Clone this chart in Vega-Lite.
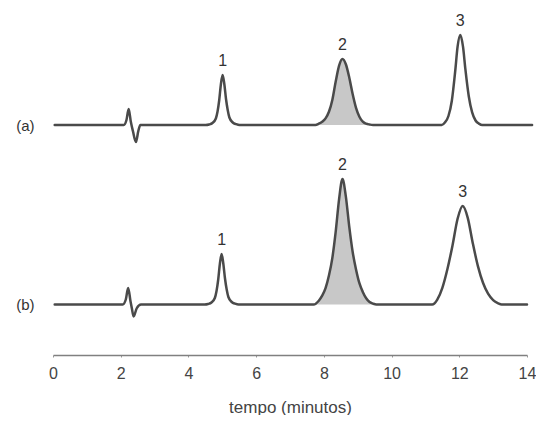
{
  "$schema": "https://vega.github.io/schema/vega-lite/v6.json",
  "padding": {"left": 15, "top": 0, "right": 0, "bottom": 0},
  "spacing": 0,
  "config": {"view": {"stroke": null}, "font": "Liberation Sans", "background": "white"},
  "datasets": {
    "a": [
      {"t": 0.05, "v": 0}, {"t": 1.9, "v": 0}, {"t": 2.09, "v": 0}, {"t": 2.17, "v": 5}, {"t": 2.235, "v": 16}, {"t": 2.3, "v": 3}, {"t": 2.36, "v": -6}, {"t": 2.45, "v": -17}, {"t": 2.52, "v": -6}, {"t": 2.58, "v": 0}, {"t": 2.8, "v": 0},
      {"t": 4.3, "v": 0}, {"t": 4.51, "v": 0}, {"t": 4.61, "v": 0.5}, {"t": 4.71, "v": 2}, {"t": 4.81, "v": 6.5}, {"t": 4.86, "v": 13.5}, {"t": 4.91, "v": 25}, {"t": 4.96, "v": 41}, {"t": 5.01, "v": 50}, {"t": 5.06, "v": 41}, {"t": 5.11, "v": 26}, {"t": 5.16, "v": 15}, {"t": 5.21, "v": 7.5}, {"t": 5.31, "v": 2.5}, {"t": 5.41, "v": 0.8}, {"t": 5.51, "v": 0}, {"t": 5.8, "v": 0},
      {"t": 7.5, "v": 0}, {"t": 7.75, "v": 0}, {"t": 7.85, "v": 1.3}, {"t": 7.95, "v": 3.3}, {"t": 8.05, "v": 6.6}, {"t": 8.15, "v": 13.2}, {"t": 8.25, "v": 25}, {"t": 8.35, "v": 43.5}, {"t": 8.45, "v": 59.4}, {"t": 8.55, "v": 66}, {"t": 8.65, "v": 60.7}, {"t": 8.75, "v": 47.5}, {"t": 8.85, "v": 31}, {"t": 8.95, "v": 17.2}, {"t": 9.05, "v": 8.3}, {"t": 9.15, "v": 3.3}, {"t": 9.25, "v": 1.3}, {"t": 9.35, "v": 0.5}, {"t": 9.45, "v": 0}, {"t": 9.8, "v": 0},
      {"t": 11.2, "v": 0}, {"t": 11.48, "v": 0}, {"t": 11.58, "v": 2.7}, {"t": 11.68, "v": 9}, {"t": 11.78, "v": 24.3}, {"t": 11.88, "v": 54}, {"t": 11.95, "v": 78.3}, {"t": 12.03, "v": 90}, {"t": 12.11, "v": 78.3}, {"t": 12.18, "v": 55.8}, {"t": 12.28, "v": 28.8}, {"t": 12.38, "v": 12.6}, {"t": 12.48, "v": 4.5}, {"t": 12.58, "v": 1.4}, {"t": 12.68, "v": 0}, {"t": 13.0, "v": 0},
      {"t": 14.15, "v": 0}
    ],
    "b": [
      {"t": 0.05, "v": 0}, {"t": 1.85, "v": 0}, {"t": 2.06, "v": 0}, {"t": 2.15, "v": 5}, {"t": 2.22, "v": 16.5}, {"t": 2.29, "v": 3}, {"t": 2.33, "v": -4}, {"t": 2.38, "v": -12}, {"t": 2.47, "v": -4}, {"t": 2.6, "v": 0}, {"t": 2.8, "v": 0},
      {"t": 4.3, "v": 0}, {"t": 4.48, "v": 0}, {"t": 4.58, "v": 0.5}, {"t": 4.68, "v": 2}, {"t": 4.78, "v": 6.5}, {"t": 4.83, "v": 13.5}, {"t": 4.88, "v": 25}, {"t": 4.93, "v": 41}, {"t": 4.98, "v": 50.5}, {"t": 5.03, "v": 41}, {"t": 5.08, "v": 26}, {"t": 5.13, "v": 15}, {"t": 5.18, "v": 7.5}, {"t": 5.28, "v": 2.5}, {"t": 5.38, "v": 0.8}, {"t": 5.48, "v": 0}, {"t": 5.8, "v": 0},
      {"t": 7.4, "v": 0}, {"t": 7.7, "v": 0}, {"t": 7.85, "v": 3.8}, {"t": 7.95, "v": 8.8}, {"t": 8.05, "v": 16.3}, {"t": 8.15, "v": 28.9}, {"t": 8.25, "v": 46.4}, {"t": 8.35, "v": 72.8}, {"t": 8.45, "v": 105.4}, {"t": 8.55, "v": 125.5}, {"t": 8.65, "v": 107.9}, {"t": 8.75, "v": 77.8}, {"t": 8.85, "v": 52.7}, {"t": 8.95, "v": 35.1}, {"t": 9.05, "v": 21.3}, {"t": 9.15, "v": 12.6}, {"t": 9.25, "v": 6.3}, {"t": 9.35, "v": 2.5}, {"t": 9.45, "v": 0.9}, {"t": 9.55, "v": 0}, {"t": 9.9, "v": 0},
      {"t": 10.9, "v": 0}, {"t": 11.2, "v": 0}, {"t": 11.35, "v": 4.9}, {"t": 11.5, "v": 16.7}, {"t": 11.65, "v": 35.5}, {"t": 11.8, "v": 59.1}, {"t": 11.95, "v": 85.7}, {"t": 12.1, "v": 98.5}, {"t": 12.25, "v": 86.7}, {"t": 12.4, "v": 61.1}, {"t": 12.55, "v": 38.4}, {"t": 12.7, "v": 21.7}, {"t": 12.85, "v": 10.8}, {"t": 13.0, "v": 4.4}, {"t": 13.15, "v": 1.2}, {"t": 13.25, "v": 0}, {"t": 13.5, "v": 0},
      {"t": 14.0, "v": 0}
    ],
    "labels": [
      {"trace": "a", "t": 5.01, "v": 50, "label": "1"},
      {"trace": "a", "t": 8.55, "v": 66, "label": "2"},
      {"trace": "a", "t": 12.03, "v": 90, "label": "3"},
      {"trace": "b", "t": 4.98, "v": 50.5, "label": "1"},
      {"trace": "b", "t": 8.55, "v": 125.5, "label": "2"},
      {"trace": "b", "t": 12.1, "v": 98.5, "label": "3"}
    ]
  },
  "vconcat": [
    {
      "width": 474,
      "height": 150,
      "layer": [
        {
          "data": {"name": "a"},
          "transform": [{"filter": "datum.t >= 7.75 && datum.t <= 9.45"}],
          "mark": {"type": "area", "interpolate": "monotone", "color": "#c8c8c8"},
          "encoding": {
            "x": {"field": "t", "type": "quantitative", "scale": {"domain": [0, 14], "nice": false}, "axis": null},
            "y": {"field": "v", "type": "quantitative", "scale": {"domain": [-25, 125], "nice": false, "zero": false},
                  "axis": {"values": [0], "labelExpr": "'(a)'", "ticks": false, "tickSize": 0, "domain": false, "grid": false, "title": null, "labelFontSize": 15, "labelPadding": 19, "labelColor": "#333333"}}
          }
        },
        {
          "data": {"name": "a"},
          "mark": {"type": "line", "interpolate": "monotone", "color": "#4a4a4a", "strokeWidth": 2.5, "strokeCap": "round", "strokeJoin": "round"},
          "encoding": {
            "x": {"field": "t", "type": "quantitative", "scale": {"domain": [0, 14], "nice": false}, "axis": null},
            "y": {"field": "v", "type": "quantitative", "scale": {"domain": [-25, 125], "nice": false, "zero": false},
                  "axis": {"values": [0], "labelExpr": "'(a)'", "ticks": false, "tickSize": 0, "domain": false, "grid": false, "title": null, "labelFontSize": 15, "labelPadding": 19, "labelColor": "#333333"}}
          }
        },
        {
          "data": {"name": "labels"},
          "transform": [{"filter": "datum.trace == 'a'"}],
          "mark": {"type": "text", "dy": -14, "baseline": "middle", "align": "center", "fontSize": 16, "color": "#333333"},
          "encoding": {
            "x": {"field": "t", "type": "quantitative", "scale": {"domain": [0, 14], "nice": false}, "axis": null},
            "y": {"field": "v", "type": "quantitative", "scale": {"domain": [-25, 125], "nice": false, "zero": false},
                  "axis": {"values": [0], "labelExpr": "'(a)'", "ticks": false, "tickSize": 0, "domain": false, "grid": false, "title": null, "labelFontSize": 15, "labelPadding": 19, "labelColor": "#333333"}},
            "text": {"field": "label"}
          }
        }
      ]
    },
    {
      "width": 474,
      "height": 205,
      "layer": [
        {
          "data": {"name": "b"},
          "transform": [{"filter": "datum.t >= 7.7 && datum.t <= 9.55"}],
          "mark": {"type": "area", "interpolate": "monotone", "color": "#c8c8c8"},
          "encoding": {
            "x": {"field": "t", "type": "quantitative", "scale": {"domain": [0, 14], "nice": false},
                  "axis": {"values": [0, 2, 4, 6, 8, 10, 12, 14], "tickSize": 2, "tickColor": "#999999", "domainColor": "#808080", "domainWidth": 1.5, "grid": false, "labelFlush": false, "labelFontSize": 16, "labelPadding": 8, "labelColor": "#444444", "title": "tempo (minutos)", "titleFontSize": 17, "titleFontWeight": "normal", "titleColor": "#444444", "titlePadding": 18}},
            "y": {"field": "v", "type": "quantitative", "scale": {"domain": [-50.5, 154.5], "nice": false, "zero": false},
                  "axis": {"values": [0], "labelExpr": "'(b)'", "ticks": false, "tickSize": 0, "domain": false, "grid": false, "title": null, "labelFontSize": 15, "labelPadding": 19, "labelColor": "#333333"}}
          }
        },
        {
          "data": {"name": "b"},
          "mark": {"type": "line", "interpolate": "monotone", "color": "#4a4a4a", "strokeWidth": 2.5, "strokeCap": "round", "strokeJoin": "round"},
          "encoding": {
            "x": {"field": "t", "type": "quantitative", "scale": {"domain": [0, 14], "nice": false},
                  "axis": {"values": [0, 2, 4, 6, 8, 10, 12, 14], "tickSize": 2, "tickColor": "#999999", "domainColor": "#808080", "domainWidth": 1.5, "grid": false, "labelFlush": false, "labelFontSize": 16, "labelPadding": 8, "labelColor": "#444444", "title": "tempo (minutos)", "titleFontSize": 17, "titleFontWeight": "normal", "titleColor": "#444444", "titlePadding": 18}},
            "y": {"field": "v", "type": "quantitative", "scale": {"domain": [-50.5, 154.5], "nice": false, "zero": false},
                  "axis": {"values": [0], "labelExpr": "'(b)'", "ticks": false, "tickSize": 0, "domain": false, "grid": false, "title": null, "labelFontSize": 15, "labelPadding": 19, "labelColor": "#333333"}}
          }
        },
        {
          "data": {"name": "labels"},
          "transform": [{"filter": "datum.trace == 'b'"}],
          "mark": {"type": "text", "dy": -14, "baseline": "middle", "align": "center", "fontSize": 16, "color": "#333333"},
          "encoding": {
            "x": {"field": "t", "type": "quantitative", "scale": {"domain": [0, 14], "nice": false},
                  "axis": {"values": [0, 2, 4, 6, 8, 10, 12, 14], "tickSize": 2, "tickColor": "#999999", "domainColor": "#808080", "domainWidth": 1.5, "grid": false, "labelFlush": false, "labelFontSize": 16, "labelPadding": 8, "labelColor": "#444444", "title": "tempo (minutos)", "titleFontSize": 17, "titleFontWeight": "normal", "titleColor": "#444444", "titlePadding": 18}},
            "y": {"field": "v", "type": "quantitative", "scale": {"domain": [-50.5, 154.5], "nice": false, "zero": false},
                  "axis": {"values": [0], "labelExpr": "'(b)'", "ticks": false, "tickSize": 0, "domain": false, "grid": false, "title": null, "labelFontSize": 15, "labelPadding": 19, "labelColor": "#333333"}},
            "text": {"field": "label"}
          }
        }
      ]
    }
  ]
}
